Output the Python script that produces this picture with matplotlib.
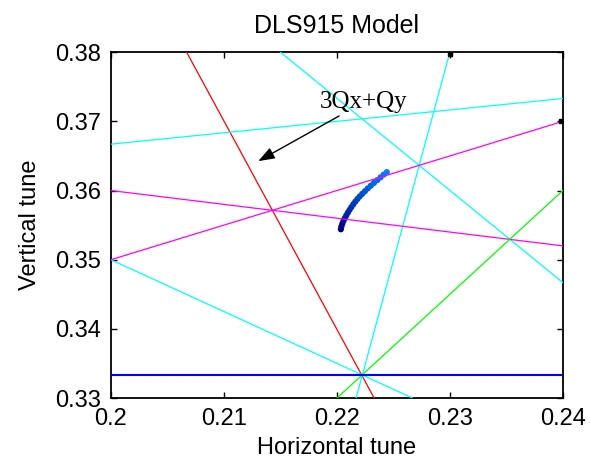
import matplotlib.pyplot as plt
import numpy as np

# resonance lines, endpoints (Qx, Qy)
line_names = ["3Qx+Qy=1", "-Qx+6Qy=2", "3Qx+4Qy=2", "4Qx+3Qy=2", "6Qx-Qy=1",
              "-Qx+2Qy=0.5", "Qx+5Qy=2", "3Qx-2Qy=0", "Qy=1/3"]
line_qx = [(0.2067, 0.2233), (0.20, 0.24), (0.20, 0.2267), (0.2150, 0.24),
           (0.2217, 0.2300), (0.20, 0.24), (0.20, 0.24), (0.2200, 0.24),
           (0.20, 0.24)]
line_qy = [(0.38, 0.33), (0.3667, 0.3733), (0.35, 0.33), (0.38, 0.3467),
           (0.33, 0.38), (0.35, 0.37), (0.36, 0.352), (0.33, 0.36),
           (0.3333, 0.3333)]
line_colors = ["#ff0000", "#00ffff", "#00ffff", "#00ffff", "#00ffff",
               "#ff00ff", "#ff00ff", "#00ff00", "#0000ff"]
line_widths = [0.9, 0.9, 0.9, 0.9, 0.9, 0.9, 0.9, 0.9, 1.5]

# tune footprint points
tune_qx = [0.22035, 0.22040, 0.22048, 0.22058, 0.22070, 0.22083, 0.22097,
           0.22112, 0.22128, 0.22145, 0.22163, 0.22182, 0.22202, 0.22224,
           0.22248, 0.22273, 0.22300, 0.22328, 0.22357, 0.22386, 0.22414,
           0.22442]
tune_qy = [0.35440, 0.35480, 0.35520, 0.35560, 0.35600, 0.35640, 0.35680,
           0.35720, 0.35760, 0.35800, 0.35840, 0.35878, 0.35915, 0.35952,
           0.35990, 0.36030, 0.36070, 0.36110, 0.36150, 0.36190, 0.36230,
           0.36266]

# black end marks
mark_qx = [0.2300, 0.2398]
mark_qy = [0.3797, 0.3700]

xticks = [0.2, 0.21, 0.22, 0.23, 0.24]
yticks = [0.33, 0.34, 0.35, 0.36, 0.37, 0.38]

plt.rcParams["font.family"] = ["Liberation Sans", "DejaVu Sans"]

fig = plt.figure(figsize=(5.9, 4.7), dpi=100)
ax = fig.add_axes([0.188, 0.153, 0.766, 0.736])

n = len(tune_qx)
cols = np.column_stack([np.zeros(n), np.linspace(0.0, 0.5, n),
                        np.linspace(0.5, 1.0, n)])
ax.scatter(tune_qx, tune_qy, s=20, c=cols, marker="o", linewidths=0, zorder=2)

for qx, qy, c, lw in zip(line_qx, line_qy, line_colors, line_widths):
    ax.plot(qx, qy, color=c, linewidth=lw, zorder=3)

ax.plot(mark_qx, mark_qy, "s", color="black", markersize=2.5, zorder=4)

ax.annotate("3Qx+Qy", xy=(0.21304, 0.36425), xytext=(0.2185, 0.3719),
            fontsize=18, family="Liberation Serif",
            arrowprops=dict(arrowstyle="-|>,head_length=0.55,head_width=0.2",
                            color="black", linewidth=1.0, shrinkA=0, shrinkB=0),
            ha="left", va="baseline", zorder=5)

ax.set_xlim(0.2, 0.24)
ax.set_ylim(0.33, 0.38)
ax.set_xticks(xticks)
ax.set_yticks(yticks)
ax.set_xticklabels([f"{v:g}" for v in xticks])
ax.set_yticklabels([f"{v:g}" for v in yticks])
ax.tick_params(axis="both", direction="in", length=4, width=1, labelsize=17,
               top=True, right=True, pad=7)
for s in ax.spines.values():
    s.set_linewidth(1.3)

ax.set_xlabel("Horizontal tune", fontsize=17, labelpad=5)
ax.set_ylabel("Vertical tune", fontsize=17, labelpad=10)
ax.set_title("DLS915 Model", fontsize=18, pad=14)

fig.savefig("out.png", dpi=100)
